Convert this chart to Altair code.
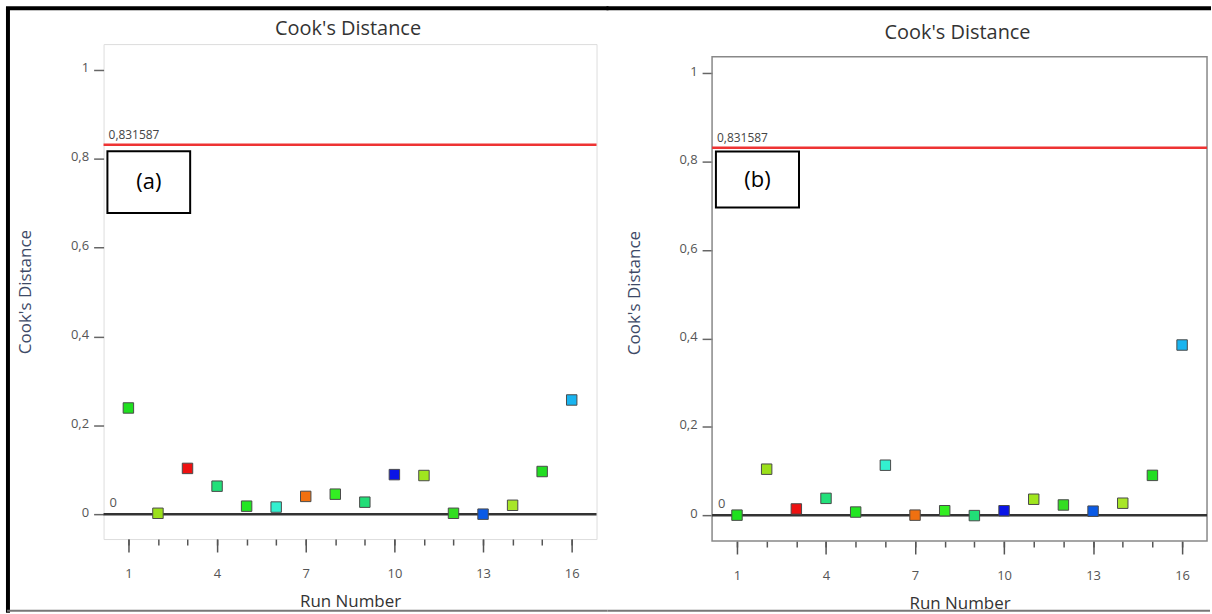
import altair as alt
import pandas as pd

runs = list(range(1, 17))
cook_a = [0.239, 0.002, 0.103, 0.063, 0.018, 0.016, 0.040, 0.045,
          0.027, 0.089, 0.087, 0.002, 0.000, 0.020, 0.096, 0.257]
cook_b = [0.000, 0.104, 0.014, 0.038, 0.007, 0.113, 0.000, 0.010,
          -0.001, 0.010, 0.036, 0.023, 0.009, 0.027, 0.090, 0.385]
colors = ["#1fe01f", "#9be01a", "#ee1111", "#22e07a", "#22e622", "#33f0d0",
          "#f07010", "#33ee22", "#22dd77", "#0a14e6", "#a0e61e", "#33dd22",
          "#0a5ae6", "#a8e628", "#22dd22", "#18b4f0"]
y_ticks = [0, 0.2, 0.4, 0.6, 0.8, 1.0]
x_major = [1, 4, 7, 10, 13, 16]
limit_value = 0.831587
limit_label = "0,831587"
panel_title = "Cook's Distance"
panel_labels = ["(a)", "(b)"]
box_x = [0.29, 3.09]
box_y_a = [0.678, 0.817]
box_y_b = [0.696, 0.823]

FONT = "Open Sans"
FRAME = "#888"


def panel(values, label, box_y, width, height, ydom, title_y,
          left_border, border_x1, border_x2, frame_top=None):
    top_rel, bottom_rel = -36, 569
    df = pd.DataFrame({"run": runs, "cook": values, "color": colors})
    xscale = alt.Scale(domain=[0.16, 16.84], nice=False, zero=False)
    yscale = alt.Scale(domain=ydom, nice=False, zero=False)
    yaxis = alt.Axis(values=y_ticks, tickSize=10, tickWidth=1.5, tickColor="#666",
                     labelPadding=5, labelFontSize=13, labelColor="#555",
                     labelFont=FONT, labelOffset=-2, domain=False, grid=False,
                     title="Cook's Distance", titleFont=FONT, titleFontSize=17,
                     titleFontWeight="normal", titleColor="#3d4966", titlePadding=36,
                     labelExpr="replace(format(datum.value, '.1~f'), '.', ',')")
    xmajor = alt.Axis(values=x_major, tickSize=13, tickWidth=1.5, tickColor="#555",
                      labelPadding=16, labelFontSize=13, labelColor="#555",
                      labelFont=FONT, domain=False, grid=False, orient="bottom",
                      title="Run Number", titleFont=FONT, titleFontSize=17,
                      titleFontWeight="normal", titleColor="#333", titlePadding=13)
    xminor = alt.Axis(values=runs, tickSize=6, tickWidth=1.5, tickColor="#555",
                      labels=False, domain=False, grid=False, orient="bottom",
                      title=None)

    base = alt.Chart(df)
    points = base.mark_square(size=110, opacity=1, stroke="#4a4a4a", strokeWidth=1).encode(
        x=alt.X("run:Q", scale=xscale, axis=xmajor),
        y=alt.Y("cook:Q", scale=yscale, axis=yaxis),
        color=alt.Color("color:N", scale=None),
    )
    minor = base.mark_point(opacity=0).encode(
        x=alt.X("run:Q", scale=xscale, axis=xminor),
        y=alt.Y("cook:Q", scale=yscale, axis=yaxis),
    )
    one = alt.Data(values=[{"a": 1}])
    limit = alt.Chart(one).mark_rule(color="#ee3333", strokeWidth=2.5).encode(
        y=alt.Y(datum=limit_value, scale=yscale, axis=yaxis))
    limit_txt = alt.Chart(one).mark_text(align="left", baseline="bottom", dy=-3,
                                         fontSize=12, font=FONT, color="#444").encode(
        x=alt.value(5), y=alt.Y(datum=limit_value, scale=yscale, axis=yaxis),
        text=alt.value(limit_label))
    zero = alt.Chart(one).mark_rule(color="#333", strokeWidth=2.5).encode(
        y=alt.Y(datum=0, scale=yscale, axis=yaxis))
    zero_txt = alt.Chart(one).mark_text(align="left", baseline="bottom", dy=-4,
                                        fontSize=13, font=FONT, color="#555").encode(
        x=alt.value(6), y=alt.Y(datum=0, scale=yscale, axis=yaxis),
        text=alt.value("0"))
    boxdf = pd.DataFrame({"x1": [box_x[0]], "x2": [box_x[1]],
                          "y1": [box_y[0]], "y2": [box_y[1]],
                          "xm": [(box_x[0] + box_x[1]) / 2],
                          "ym": [(box_y[0] + box_y[1]) / 2], "t": [label]})
    box = alt.Chart(boxdf).mark_rect(fill="white", stroke="black", strokeWidth=2).encode(
        x=alt.X("x1:Q", scale=xscale, axis=None), x2="x2:Q",
        y=alt.Y("y1:Q", scale=yscale, axis=yaxis), y2="y2:Q")
    box_txt = alt.Chart(boxdf).mark_text(fontSize=22, font=FONT, color="black").encode(
        x=alt.X("xm:Q", scale=xscale, axis=None),
        y=alt.Y("ym:Q", scale=yscale, axis=yaxis), text="t:N")
    title = alt.Chart(one).mark_text(fontSize=20, font=FONT, color="#333",
                                     baseline="middle", align="center").encode(
        x=alt.value(width / 2 - 2), y=alt.value(title_y), text=alt.value(panel_title))

    layers = []
    if frame_top is not None:
        layers.append(alt.Chart(one).mark_rect(fillOpacity=0, stroke=FRAME,
                                               strokeWidth=1.5).encode(
            x=alt.value(0), x2=alt.value(width),
            y=alt.value(frame_top), y2=alt.value(height)))
    layers += [limit, zero, box, box_txt, limit_txt, zero_txt, minor, points, title]
    # decorative outer border of the figure
    layers.append(alt.Chart(one).mark_rule(color="black", strokeWidth=4,
                                           strokeCap="square").encode(
        x=alt.value(border_x1 + 2), x2=alt.value(border_x2), y=alt.value(top_rel)))
    if left_border:
        layers.append(alt.Chart(one).mark_rule(color="black", strokeWidth=4).encode(
            x=alt.value(border_x1 + 2), y=alt.value(top_rel), y2=alt.value(bottom_rel + 2)))
    layers.append(alt.Chart(one).mark_rule(color="#777", strokeWidth=2,
                                           strokeCap="square").encode(
        x=alt.value(border_x1 + 2), x2=alt.value(border_x2), y=alt.value(bottom_rel)))

    props = dict(width=width, height=height)
    if frame_top is not None:
        props["view"] = alt.ViewBackground(strokeOpacity=0)
    return alt.layer(*layers).resolve_axis(x="independent").properties(**props)


pa = panel(cook_a, panel_labels[0], box_y_a, 495, 497, [-0.056, 1.058], -15,
           True, -98, 505)
pb = panel(cook_b, panel_labels[1], box_y_b, 497, 499, [-0.0586, 1.066], -11,
           False, -106, 499, frame_top=12.7)

chart = alt.hconcat(pa, pb, spacing=-5).properties(
    padding={"left": 4, "top": 3, "right": 0, "bottom": 0}
).configure_view(stroke=FRAME, strokeWidth=1.5).configure(background="white")

chart.save("out.html", embed_options={"renderer": "svg", "actions": False})
